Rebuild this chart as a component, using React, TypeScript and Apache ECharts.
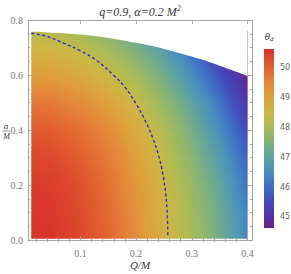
import React, { useEffect, useRef } from "react";
import * as echarts from "echarts";

// ---- data ----
const qCols = [0.012, 0.05, 0.1, 0.15, 0.2, 0.25, 0.3, 0.35, 0.4];
const aRows = [0.006, 0.1, 0.2, 0.3, 0.4, 0.5, 0.6, 0.7, 0.76];
const thetaRow0 = [50.6, 50.55, 50.3, 49.95, 49.35, 48.65, 48.0, 47.3, 46.4];
const thetaRow1 = [50.58, 50.52, 50.28, 49.9, 49.3, 48.6, 47.92, 47.2, 46.3];
const thetaRow2 = [50.5, 50.45, 50.2, 49.8, 49.2, 48.5, 47.8, 47.05, 46.1];
const thetaRow3 = [50.35, 50.3, 50.05, 49.65, 49.05, 48.35, 47.6, 46.8, 45.85];
const thetaRow4 = [50.1, 50.05, 49.8, 49.4, 48.8, 48.1, 47.35, 46.5, 45.5];
const thetaRow5 = [49.7, 49.65, 49.4, 49.0, 48.45, 47.75, 47.0, 46.1, 45.1];
const thetaRow6 = [49.1, 49.05, 48.85, 48.45, 47.95, 47.3, 46.5, 45.6, 44.75];
const thetaRow7 = [48.55, 48.5, 48.3, 47.9, 47.4, 46.8, 46.0, 45.1, 44.5];
const thetaRow8 = [48.2, 48.15, 47.95, 47.6, 47.1, 46.5, 45.7, 44.9, 44.4];
const thetaRows = [thetaRow0, thetaRow1, thetaRow2, thetaRow3, thetaRow4, thetaRow5, thetaRow6, thetaRow7, thetaRow8];

const boundaryQ = [0.012, 0.05, 0.1, 0.15, 0.2, 0.25, 0.3, 0.35, 0.4];
const boundaryA = [0.757, 0.754, 0.747, 0.735, 0.717, 0.695, 0.667, 0.634, 0.597];

const contourQ = [0.012, 0.04, 0.07, 0.1, 0.13, 0.16, 0.18, 0.2, 0.215, 0.23, 0.24, 0.248, 0.253, 0.256, 0.257];
const contourA = [0.752, 0.74, 0.716, 0.688, 0.652, 0.598, 0.556, 0.495, 0.44, 0.37, 0.31, 0.24, 0.17, 0.09, 0.01];

const xTicks = [0.1, 0.2, 0.3, 0.4];
const xMinorTicks = [0.02, 0.04, 0.06, 0.08, 0.12, 0.14, 0.16, 0.18, 0.22, 0.24, 0.26, 0.28, 0.32, 0.34, 0.36, 0.38];
const yTicks = [0, 0.2, 0.4, 0.6, 0.8];
const yMinorTicks = [0.05, 0.1, 0.15, 0.25, 0.3, 0.35, 0.45, 0.5, 0.55, 0.65, 0.7, 0.75];
const barTicks = [45, 46, 47, 48, 49, 50];
const thetaMin = 44.63;
const thetaMax = 50.62;

// ---- styles ----
const colorStops: [number, string][] = [
  [44.63, "#6e1f87"],
  [45.0, "#5532a6"],
  [45.5, "#4449ba"],
  [46.0, "#3e6dc6"],
  [46.5, "#4a8ebf"],
  [47.0, "#5ea3a1"],
  [47.5, "#82b27b"],
  [48.0, "#a8bb58"],
  [48.5, "#ccb744"],
  [49.0, "#dea23b"],
  [49.5, "#e5853a"],
  [50.0, "#e2612f"],
  [50.62, "#d8302a"],
];

function hexRgb(h: string) {
  return [parseInt(h.slice(1, 3), 16), parseInt(h.slice(3, 5), 16), parseInt(h.slice(5, 7), 16)];
}
const stopRgb = colorStops.map((s) => [s[0], hexRgb(s[1])] as [number, number[]]);
function colorOf(v: number) {
  if (v <= stopRgb[0][0]) return `rgb(${stopRgb[0][1].join(",")})`;
  for (let k = 1; k < stopRgb.length; k++) {
    if (v <= stopRgb[k][0]) {
      const [v0, c0] = stopRgb[k - 1];
      const [v1, c1] = stopRgb[k];
      const t = (v - v0) / (v1 - v0);
      const c = c0.map((x, i) => Math.round(x + (c1[i] - x) * t));
      return `rgb(${c.join(",")})`;
    }
  }
  return `rgb(${stopRgb[stopRgb.length - 1][1].join(",")})`;
}
const lerp = (a: number, b: number, t: number) => a + (b - a) * t;

const SERIF = "'Liberation Serif', 'DejaVu Serif', serif";
const SANS = "'DejaVu Sans', 'Liberation Sans', sans-serif";
const FRAME = "#a6a6a6";
const LABEL = "#7a7a7a";

export default function App() {
  const ref = useRef<HTMLDivElement>(null);
  useEffect(() => {
    if (!ref.current) return;
    const chart = echarts.init(ref.current, undefined, { renderer: "svg" });

    const cells: number[][] = [];
    for (let j = 0; j < aRows.length - 1; j++)
      for (let i = 0; i < qCols.length - 1; i++) cells.push([qCols[i], aRows[j], i, j]);

    const gridRect = { left: 28, right: 39, top: 20, bottom: 34, containLabel: false, outerBoundsMode: "none" };
    const xMin = 0.006, xMax = 0.408, yMin = 0, yMax = 0.8;

    const majorX = (pos: string, labels: boolean) => ({
      type: "value", gridIndex: 0, position: pos, min: xMin, max: xMax, z: 10,
      axisLine: { show: true, onZero: false, lineStyle: { color: FRAME, width: 1 } },
      axisTick: { show: true, inside: true, length: 4, customValues: xTicks, lineStyle: { color: FRAME } },
      axisLabel: labels
        ? { show: true, customValues: xTicks, color: LABEL, fontFamily: SERIF, fontSize: 10, margin: 8, formatter: (v: number) => v.toFixed(1) }
        : { show: false },
      splitLine: { show: false },
    });
    const minorX = (pos: string) => ({
      type: "value", gridIndex: 1, position: pos, min: xMin, max: xMax, z: 10,
      axisLine: { show: false },
      axisTick: { show: true, inside: true, length: 2, customValues: xMinorTicks, lineStyle: { color: FRAME } },
      axisLabel: { show: false, customValues: xMinorTicks },
      splitLine: { show: false },
    });
    const majorY = (pos: string, labels: boolean) => ({
      type: "value", gridIndex: 0, position: pos, min: yMin, max: yMax, z: 10,
      axisLine: { show: true, onZero: false, lineStyle: { color: FRAME, width: 1 } },
      axisTick: { show: true, inside: true, length: 4, customValues: yTicks, lineStyle: { color: FRAME } },
      axisLabel: labels
        ? { show: true, customValues: yTicks, color: LABEL, fontFamily: SERIF, fontSize: 10, margin: 5, formatter: (v: number) => v.toFixed(1) }
        : { show: false },
      splitLine: { show: false },
    });
    const minorY = (pos: string) => ({
      type: "value", gridIndex: 1, position: pos, min: yMin, max: yMax, z: 10,
      axisLine: { show: false },
      axisTick: { show: true, inside: true, length: 2, customValues: yMinorTicks, lineStyle: { color: FRAME } },
      axisLabel: { show: false, customValues: yMinorTicks },
      splitLine: { show: false },
    });

    const option: any = {
      animation: false,
      backgroundColor: "#ffffff",
      grid: [
        { ...gridRect },
        { ...gridRect },
        { left: 264, width: 10, top: 49, height: 179, containLabel: false, outerBoundsMode: "none" },
      ],
      xAxis: [
        majorX("bottom", true),
        majorX("top", false),
        minorX("bottom"),
        minorX("top"),
        { type: "value", gridIndex: 2, min: 0, max: 1, show: false },
      ],
      yAxis: [
        majorY("left", true),
        majorY("right", false),
        minorY("left"),
        minorY("right"),
        {
          type: "value", gridIndex: 2, position: "right", min: thetaMin, max: thetaMax,
          axisLine: { show: true, lineStyle: { color: "#cfcfcf", width: 1 } },
          axisTick: { show: true, inside: false, length: 2, customValues: barTicks, lineStyle: { color: "#cfcfcf" } },
          axisLabel: { show: false, customValues: barTicks },
          splitLine: { show: false },
        },
      ],
      series: [
        {
          type: "custom",
          xAxisIndex: 0,
          yAxisIndex: 0,
          encode: { x: 0, y: 1 },
          data: cells,
          z: 2,
          renderItem: (params: any, api: any) => {
            const i = api.value(2);
            const j = api.value(3);
            const v00 = thetaRows[j][i], v10 = thetaRows[j][i + 1];
            const v01 = thetaRows[j + 1][i], v11 = thetaRows[j + 1][i + 1];
            const p0 = api.coord([qCols[i], aRows[j]]);
            const p1 = api.coord([qCols[i + 1], aRows[j + 1]]);
            const x = p0[0];
            const w = p1[0] - p0[0];
            const yB = p0[1];
            const H = p0[1] - p1[1];
            const N = Math.max(4, Math.round(H / 2));
            const h = H / N;
            const extraW = i < qCols.length - 2 ? 0.7 : 0;
            const children: any[] = [];
            for (let k = 0; k < N; k++) {
              const t = (k + 0.5) / N;
              const vl = lerp(v00, v01, t);
              const vr = lerp(v10, v11, t);
              const stops = [0, 0.25, 0.5, 0.75, 1].map((s) => ({ offset: s, color: colorOf(lerp(vl, vr, s)) }));
              const top = yB - (k + 1) * h;
              children.push({
                type: "rect",
                shape: { x: x, y: top - 0.4, width: w + extraW, height: h + 0.8 },
                style: { fill: new echarts.graphic.LinearGradient(0, 0, 1, 0, stops), stroke: null },
                silent: true,
              });
            }
            return { type: "group", children };
          },
        },
        {
          type: "line",
          xAxisIndex: 0,
          yAxisIndex: 0,
          data: boundaryQ.map((q, k) => [q, boundaryA[k]]),
          smooth: 0.4,
          symbol: "none",
          lineStyle: { width: 0, opacity: 0 },
          areaStyle: { origin: "end", color: "#ffffff", opacity: 1 },
          z: 3,
          silent: true,
        },
        {
          type: "line",
          xAxisIndex: 0,
          yAxisIndex: 0,
          data: contourQ.map((q, k) => [q, contourA[k]]),
          smooth: 0.4,
          symbol: "none",
          lineStyle: { color: "#2b2bd6", width: 1.4, type: [3, 2.5] },
          z: 4,
          silent: true,
        },
        {
          type: "custom",
          xAxisIndex: 4,
          yAxisIndex: 4,
          data: [[0, thetaMin, 1, thetaMax]],
          encode: { x: [0, 2], y: [1, 3] },
          renderItem: (params: any, api: any) => {
            const p0 = api.coord([api.value(0), api.value(1)]);
            const p1 = api.coord([api.value(2), api.value(3)]);
            const span = thetaMax - thetaMin;
            const stops = colorStops.map((s) => ({ offset: (s[0] - thetaMin) / span, color: s[1] }));
            return {
              type: "rect",
              shape: { x: p0[0], y: p1[1], width: p1[0] - p0[0], height: p0[1] - p1[1] },
              style: { fill: new echarts.graphic.LinearGradient(0, 1, 0, 0, stops) },
            };
          },
        },
      ],
      graphic: [
        {
          type: "text",
          x: 140,
          y: 12,
          style: {
            text: "{t|q=0.9, α=0.2 M}{s|2}",
            align: "center",
            verticalAlign: "middle",
            rich: {
              t: { fontFamily: SERIF, fontStyle: "italic", fontSize: 12, fill: "#3a3a3a" },
              s: { fontFamily: SERIF, fontStyle: "italic", fontSize: 8, fill: "#3a3a3a", verticalAlign: "top", padding: [0, 0, 7, 0] },
            },
          },
        },
        {
          type: "text",
          x: 140,
          y: 265,
          style: { text: "Q/M", align: "center", verticalAlign: "middle", fontFamily: SERIF, fontStyle: "italic", fontSize: 11, fill: "#3a3a3a" },
        },
        {
          type: "text",
          x: 6,
          y: 126,
          style: { text: "a", align: "center", verticalAlign: "middle", fontFamily: SERIF, fontStyle: "italic", fontSize: 9, fill: "#333333" },
        },
        {
          type: "line",
          shape: { x1: 2.5, y1: 131, x2: 10.5, y2: 131 },
          style: { stroke: "#666", lineWidth: 0.7 },
        },
        {
          type: "text",
          x: 6.5,
          y: 136.5,
          style: { text: "M", align: "center", verticalAlign: "middle", fontFamily: SERIF, fontStyle: "italic", fontSize: 8, fill: "#333333" },
        },
        {
          type: "text",
          x: 269,
          y: 36,
          style: {
            text: "{t|θ}{s|d}",
            align: "center",
            verticalAlign: "middle",
            rich: {
              t: { fontFamily: SERIF, fontStyle: "italic", fontSize: 11, fill: "#3a3a3a" },
              s: { fontFamily: SERIF, fontStyle: "italic", fontSize: 7, fill: "#3a3a3a", padding: [5, 0, 0, 0] },
            },
          },
        },
      ],
    };
    chart.setOption(option);

    // colour-bar tick labels, placed through the colour-bar axis scale
    const barLabels = barTicks.map((v) => {
      const py = chart.convertToPixel({ yAxisIndex: 4 } as any, v) as unknown as number;
      return {
        type: "text",
        x: 280,
        y: py,
        style: { text: String(v), align: "left", verticalAlign: "middle", fontFamily: SANS, fontSize: 8, fill: "#666666" },
      };
    });
    const existing = (option.graphic as any[]).slice();
    chart.setOption({ graphic: existing.concat(barLabels) } as any);

    return () => chart.dispose();
  }, []);
  return <div ref={ref} style={{ position: "fixed", left: 0, top: 0, width: 291, height: 274 }} />;
}
